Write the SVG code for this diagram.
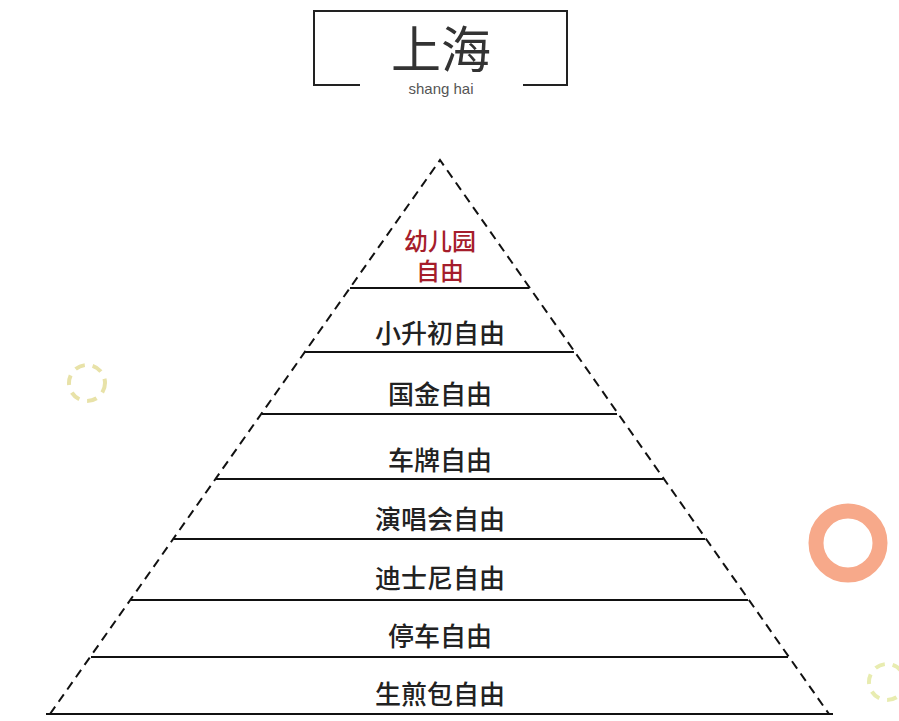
<svg xmlns="http://www.w3.org/2000/svg" width="899" height="721" viewBox="0 0 899 721">
<style>
.l{font-family:"Noto Sans CJK SC",sans-serif;font-size:26px;font-weight:500;fill:#222;text-anchor:middle}
.r{fill:#a51d2b;font-size:24px}
.h{stroke:#111;stroke-width:2}
</style>
<rect width="899" height="721" fill="#fff"/>
<g id="title">
<path d="M360 85H314V11H567V85H523" fill="none" stroke="#222" stroke-width="2"/>
<text x="441" y="68" font-family="Noto Sans CJK SC,sans-serif" font-size="50" fill="#333" text-anchor="middle">上海</text>
<text x="441" y="94" font-family="Liberation Sans,sans-serif" font-size="15" fill="#555" text-anchor="middle">shang hai</text>
</g>
<g id="deco">
<circle cx="87" cy="383" r="18" fill="none" stroke="#e8e2a8" stroke-width="4" stroke-dasharray="10 8"/>
<circle cx="848" cy="543" r="32" fill="none" stroke="#f7a98a" stroke-width="15"/>
<circle cx="887" cy="682" r="18" fill="none" stroke="#e8ecb0" stroke-width="4" stroke-dasharray="10 8"/>
</g>
<g id="connectors">
<path d="M50 714L440 160L829 714" fill="none" stroke="#111" stroke-width="2" stroke-dasharray="9 6"/>
<line class="h" x1="350" y1="288" x2="529" y2="288"/>
<line class="h" x1="305" y1="352" x2="574" y2="352"/>
<line class="h" x1="262" y1="414" x2="617" y2="414"/>
<line class="h" x1="216" y1="479" x2="663" y2="479"/>
<line class="h" x1="174" y1="539" x2="705" y2="539"/>
<line class="h" x1="131" y1="600" x2="748" y2="600"/>
<line class="h" x1="91" y1="657" x2="788" y2="657"/>
<line class="h" x1="46" y1="714" x2="833" y2="714"/>
</g>
<g id="n1"><text class="l r" x="440" y="250">幼儿园</text><text class="l r" x="440" y="280">自由</text></g>
<g id="n2"><text class="l" x="440" y="343">小升初自由</text></g>
<g id="n3"><text class="l" x="440" y="404">国金自由</text></g>
<g id="n4"><text class="l" x="440" y="470">车牌自由</text></g>
<g id="n5"><text class="l" x="440" y="529">演唱会自由</text></g>
<g id="n6"><text class="l" x="440" y="588">迪士尼自由</text></g>
<g id="n7"><text class="l" x="440" y="646">停车自由</text></g>
<g id="n8"><text class="l" x="440" y="704">生煎包自由</text></g>
</svg>
